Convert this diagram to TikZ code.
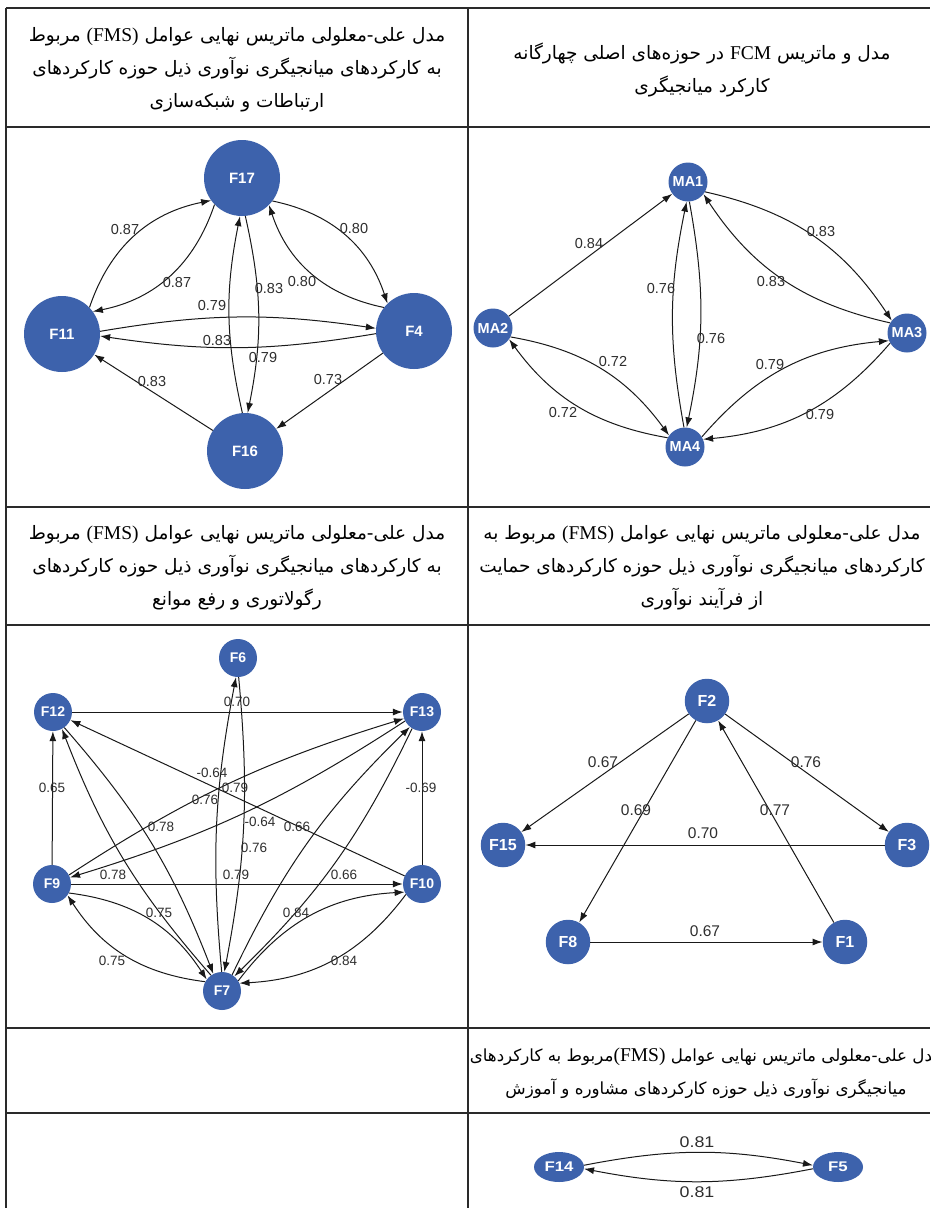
\documentclass[tikz,border=0pt]{standalone}
\usepackage{fontspec}
\setmainfont{Liberation Serif}
\newfontfamily\fa[Script=Arabic]{DejaVu Sans}
\newfontfamily\lat{Liberation Serif}
\newfontfamily\nodefont{Liberation Sans}
\usetikzlibrary{arrows.meta,calc,shapes.geometric}
\TeXXeTstate=1

\definecolor{nodeblue}{HTML}{3D62AC}
\definecolor{gridgray}{HTML}{2A2A2A}
\definecolor{wtgray}{HTML}{2E2E2E}

% one right-to-left line of Persian text
\newcommand\faline[1]{\beginR#1\endR}
% Latin words set inside a Persian line
\newcommand\latin[1]{{\lat\fontsize{19.5}{33}\selectfont\beginL#1\endL}}

% a pair of opposite arcs between two nodes, both bending to their left
\newcommand\bothways[3]{%
  \draw[link] let \p1=(#1), \p2=(#2), \n1={atan2(\y2-\y1,\x2-\x1)},
    \n2={\n1+4}, \n3={\n1+176} in (#1.\n2) to[bend left=#3] (#2.\n3);
  \draw[link] let \p1=(#1), \p2=(#2), \n1={atan2(\y2-\y1,\x2-\x1)},
    \n2={\n1+184}, \n3={\n1-4} in (#2.\n2) to[bend left=#3] (#1.\n3);
}

\tikzset{
  vtx/.style={circle, fill=nodeblue, draw=none, text=white, inner sep=0pt},
  bigvtx/.style={vtx, minimum size=76pt, font=\nodefont\bfseries\fontsize{15}{16}\selectfont},
  mavtx/.style={vtx, minimum size=39pt, font=\nodefont\bfseries\fontsize{14.5}{16}\selectfont},
  fvtx/.style={vtx, minimum size=38pt, font=\nodefont\bfseries\fontsize{14}{15}\selectfont},
  trivtx/.style={vtx, minimum size=44.5pt, font=\nodefont\bfseries\fontsize{16}{17}\selectfont},
  ovalvtx/.style={vtx, ellipse, minimum width=50pt, minimum height=30pt, font=\nodefont\bfseries\fontsize{14}{16}\selectfont},
  link/.style={draw=black!90, line width=1pt, -{Latex[length=10pt,width=7pt]}},
  wt/.style={inner sep=0pt, text=wtgray, font=\nodefont\fontsize{14.5}{16}\selectfont},
  wtsmall/.style={wt, font=\nodefont\fontsize{13.5}{15}\selectfont},
  wtlarge/.style={wt, font=\nodefont\fontsize{15.5}{17}\selectfont},
  hdr/.style={align=center, inner sep=0pt, text=black, font=\fa\fontsize{18.5}{33}\selectfont},
  hdrsmall/.style={hdr, font=\fa\fontsize{16.7}{33}\selectfont},
  gridline/.style={draw=gridgray, line width=1.2pt}
}

\begin{document}
\begin{tikzpicture}[x=1pt, y=-1pt]
\useasboundingbox (0,0) rectangle (930,1208);
\fill[white] (0,0) rectangle (930,1208);

% ---------- table rules ----------
\draw[gridline] (6,8) -- (930,8);
\draw[gridline] (6,127) -- (930,127);
\draw[gridline] (6,507) -- (930,507);
\draw[gridline] (6,625) -- (930,625);
\draw[gridline] (6,1028) -- (930,1028);
\draw[gridline] (6,1113) -- (930,1113);
\draw[gridline] (6,8) -- (6,1208);
\draw[gridline] (468,8) -- (468,1208);

% ---------- captions ----------
\node[hdr] (capA) at (237,70) {%
  \faline{مدل علی-معلولی ماتریس نهایی عوامل \latin{(FMS)} مربوط}\\
  \faline{به کارکردهای میانجیگری نوآوری ذیل حوزه کارکردهای}\\
  \faline{ارتباطات و شبکه^^^^200cسازی}};
\node[hdr] (capB) at (702,70) {%
  \faline{مدل و ماتریس \latin{FCM} در حوزه^^^^200cهای اصلی چهارگانه}\\
  \faline{کارکرد میانجیگری}};
\node[hdr] (capC) at (237,568) {%
  \faline{مدل علی-معلولی ماتریس نهایی عوامل \latin{(FMS)} مربوط}\\
  \faline{به کارکردهای میانجیگری نوآوری ذیل حوزه کارکردهای}\\
  \faline{رگولاتوری و رفع موانع}};
\node[hdr] (capD) at (702,568) {%
  \faline{مدل علی-معلولی ماتریس نهایی عوامل \latin{(FMS)} مربوط به}\\
  \faline{کارکردهای میانجیگری نوآوری ذیل حوزه کارکردهای حمایت}\\
  \faline{از فرآیند نوآوری}};
\node[hdrsmall] (capE) at (706,1073) {%
  \faline{مدل علی-معلولی ماتریس نهایی عوامل \latin{(FMS)}مربوط به کارکردهای}\\
  \faline{میانجیگری نوآوری ذیل حوزه کارکردهای مشاوره و آموزش}};

% ---------- networking and linkage ----------
\node[bigvtx] (F17) at (242,178) {F17};
\node[bigvtx] (F11) at (62,334) {F11};
\node[bigvtx] (F4) at (414,331) {F4};
\node[bigvtx] (F16) at (245,451) {F16};
\bothways{F11}{F17}{30}
\bothways{F17}{F4}{30}
\bothways{F11}{F4}{9}
\bothways{F17}{F16}{12}
\draw[link] (F16) -- (F11);
\draw[link] (F4) -- (F16);
\node[wt] (a1) at (125,230) {0.87};
\node[wt] (a2) at (177,283) {0.87};
\node[wt] (a3) at (354,229) {0.80};
\node[wt] (a4) at (302,282) {0.80};
\node[wt] (a5) at (212,306) {0.79};
\node[wt] (a6) at (269,289) {0.83};
\node[wt] (a7) at (217,341) {0.83};
\node[wt] (a8) at (263,358) {0.79};
\node[wt] (a9) at (152,382) {0.83};
\node[wt] (a10) at (328,380) {0.73};

% ---------- four main areas ----------
\node[mavtx] (MA1) at (688,182) {MA1};
\node[mavtx] (MA2) at (493,328) {MA2};
\node[mavtx] (MA3) at (907,333) {MA3};
\node[mavtx] (MA4) at (685,447) {MA4};
\draw[link] (MA2) -- (MA1);
\bothways{MA1}{MA3}{22}
\bothways{MA1}{MA4}{11}
\bothways{MA2}{MA4}{22}
\bothways{MA4}{MA3}{22}
\node[wt] (b1) at (589,244) {0.84};
\node[wt] (b2) at (821,232) {0.83};
\node[wt] (b3) at (771,282) {0.83};
\node[wt] (b4) at (661,289) {0.76};
\node[wt] (b5) at (711,339) {0.76};
\node[wt] (b6) at (613,362) {0.72};
\node[wt] (b7) at (563,413) {0.72};
\node[wt] (b8) at (770,365) {0.79};
\node[wt] (b9) at (820,415) {0.79};

% ---------- regulation and barrier removal ----------
\node[fvtx] (F6) at (238,658) {F6};
\node[fvtx] (F12) at (53,712) {F12};
\node[fvtx] (F13) at (422,712) {F13};
\node[fvtx] (F9) at (52,884) {F9};
\node[fvtx] (F10) at (422,884) {F10};
\node[fvtx] (F7) at (222,991) {F7};
\draw[link] (F12) -- (F13);
\draw[link] (F9) -- (F12);
\draw[link] (F10) -- (F13);
\draw[link] (F10) -- (F12);
\draw[link] (F9) -- (F10);
\bothways{F9}{F13}{8}
\bothways{F12}{F7}{10}
\bothways{F9}{F7}{25}
\bothways{F6}{F7}{8}
\bothways{F13}{F7}{10}
\bothways{F10}{F7}{25}
\node[wtsmall] (c1) at (237,702) {0.70};
\node[wtsmall] (c2) at (212,773) {-0.64};
\node[wtsmall] (c3) at (235,788) {0.79};
\node[wtsmall] (c4) at (205,800) {0.76};
\node[wtsmall] (c5) at (260,822) {-0.64};
\node[wtsmall] (c6) at (297,827) {0.66};
\node[wtsmall] (c7) at (161,827) {0.78};
\node[wtsmall] (c8) at (52,788) {0.65};
\node[wtsmall] (c9) at (421,788) {-0.69};
\node[wtsmall] (c10) at (254,848) {0.76};
\node[wtsmall] (c11) at (113,875) {0.78};
\node[wtsmall] (c12) at (236,875) {0.79};
\node[wtsmall] (c13) at (344,875) {0.66};
\node[wtsmall] (c14) at (159,913) {0.75};
\node[wtsmall] (c15) at (296,913) {0.84};
\node[wtsmall] (c16) at (112,961) {0.75};
\node[wtsmall] (c17) at (344,961) {0.84};

% ---------- support of the innovation process ----------
\node[trivtx] (F2) at (707,701) {F2};
\node[trivtx] (F15) at (503,845) {F15};
\node[trivtx] (F3) at (907,845) {F3};
\node[trivtx] (F8) at (568,942) {F8};
\node[trivtx] (F1) at (845,942) {F1};
\draw[link] (F2) -- (F15);
\draw[link] (F2) -- (F3);
\draw[link] (F2) -- (F8);
\draw[link] (F1) -- (F2);
\draw[link] (F3) -- (F15);
\draw[link] (F8) -- (F1);
\node[wtlarge] (d1) at (603,762) {0.67};
\node[wtlarge] (d2) at (806,762) {0.76};
\node[wtlarge] (d3) at (636,810) {0.69};
\node[wtlarge] (d4) at (775,810) {0.77};
\node[wtlarge] (d5) at (703,833) {0.70};
\node[wtlarge] (d6) at (705,931) {0.67};

% ---------- consulting and training ----------
\node[ovalvtx] (F14) at (559,1167) {\scalebox{1.2}[1]{F14}};
\node[ovalvtx] (F5) at (838,1167) {\scalebox{1.2}[1]{F5}};
\bothways{F14}{F5}{11}
\node[wtlarge] (e1) at (697,1142) {\scalebox{1.15}[1]{0.81}};
\node[wtlarge] (e2) at (697,1192) {\scalebox{1.15}[1]{0.81}};
\end{tikzpicture}
\end{document}
